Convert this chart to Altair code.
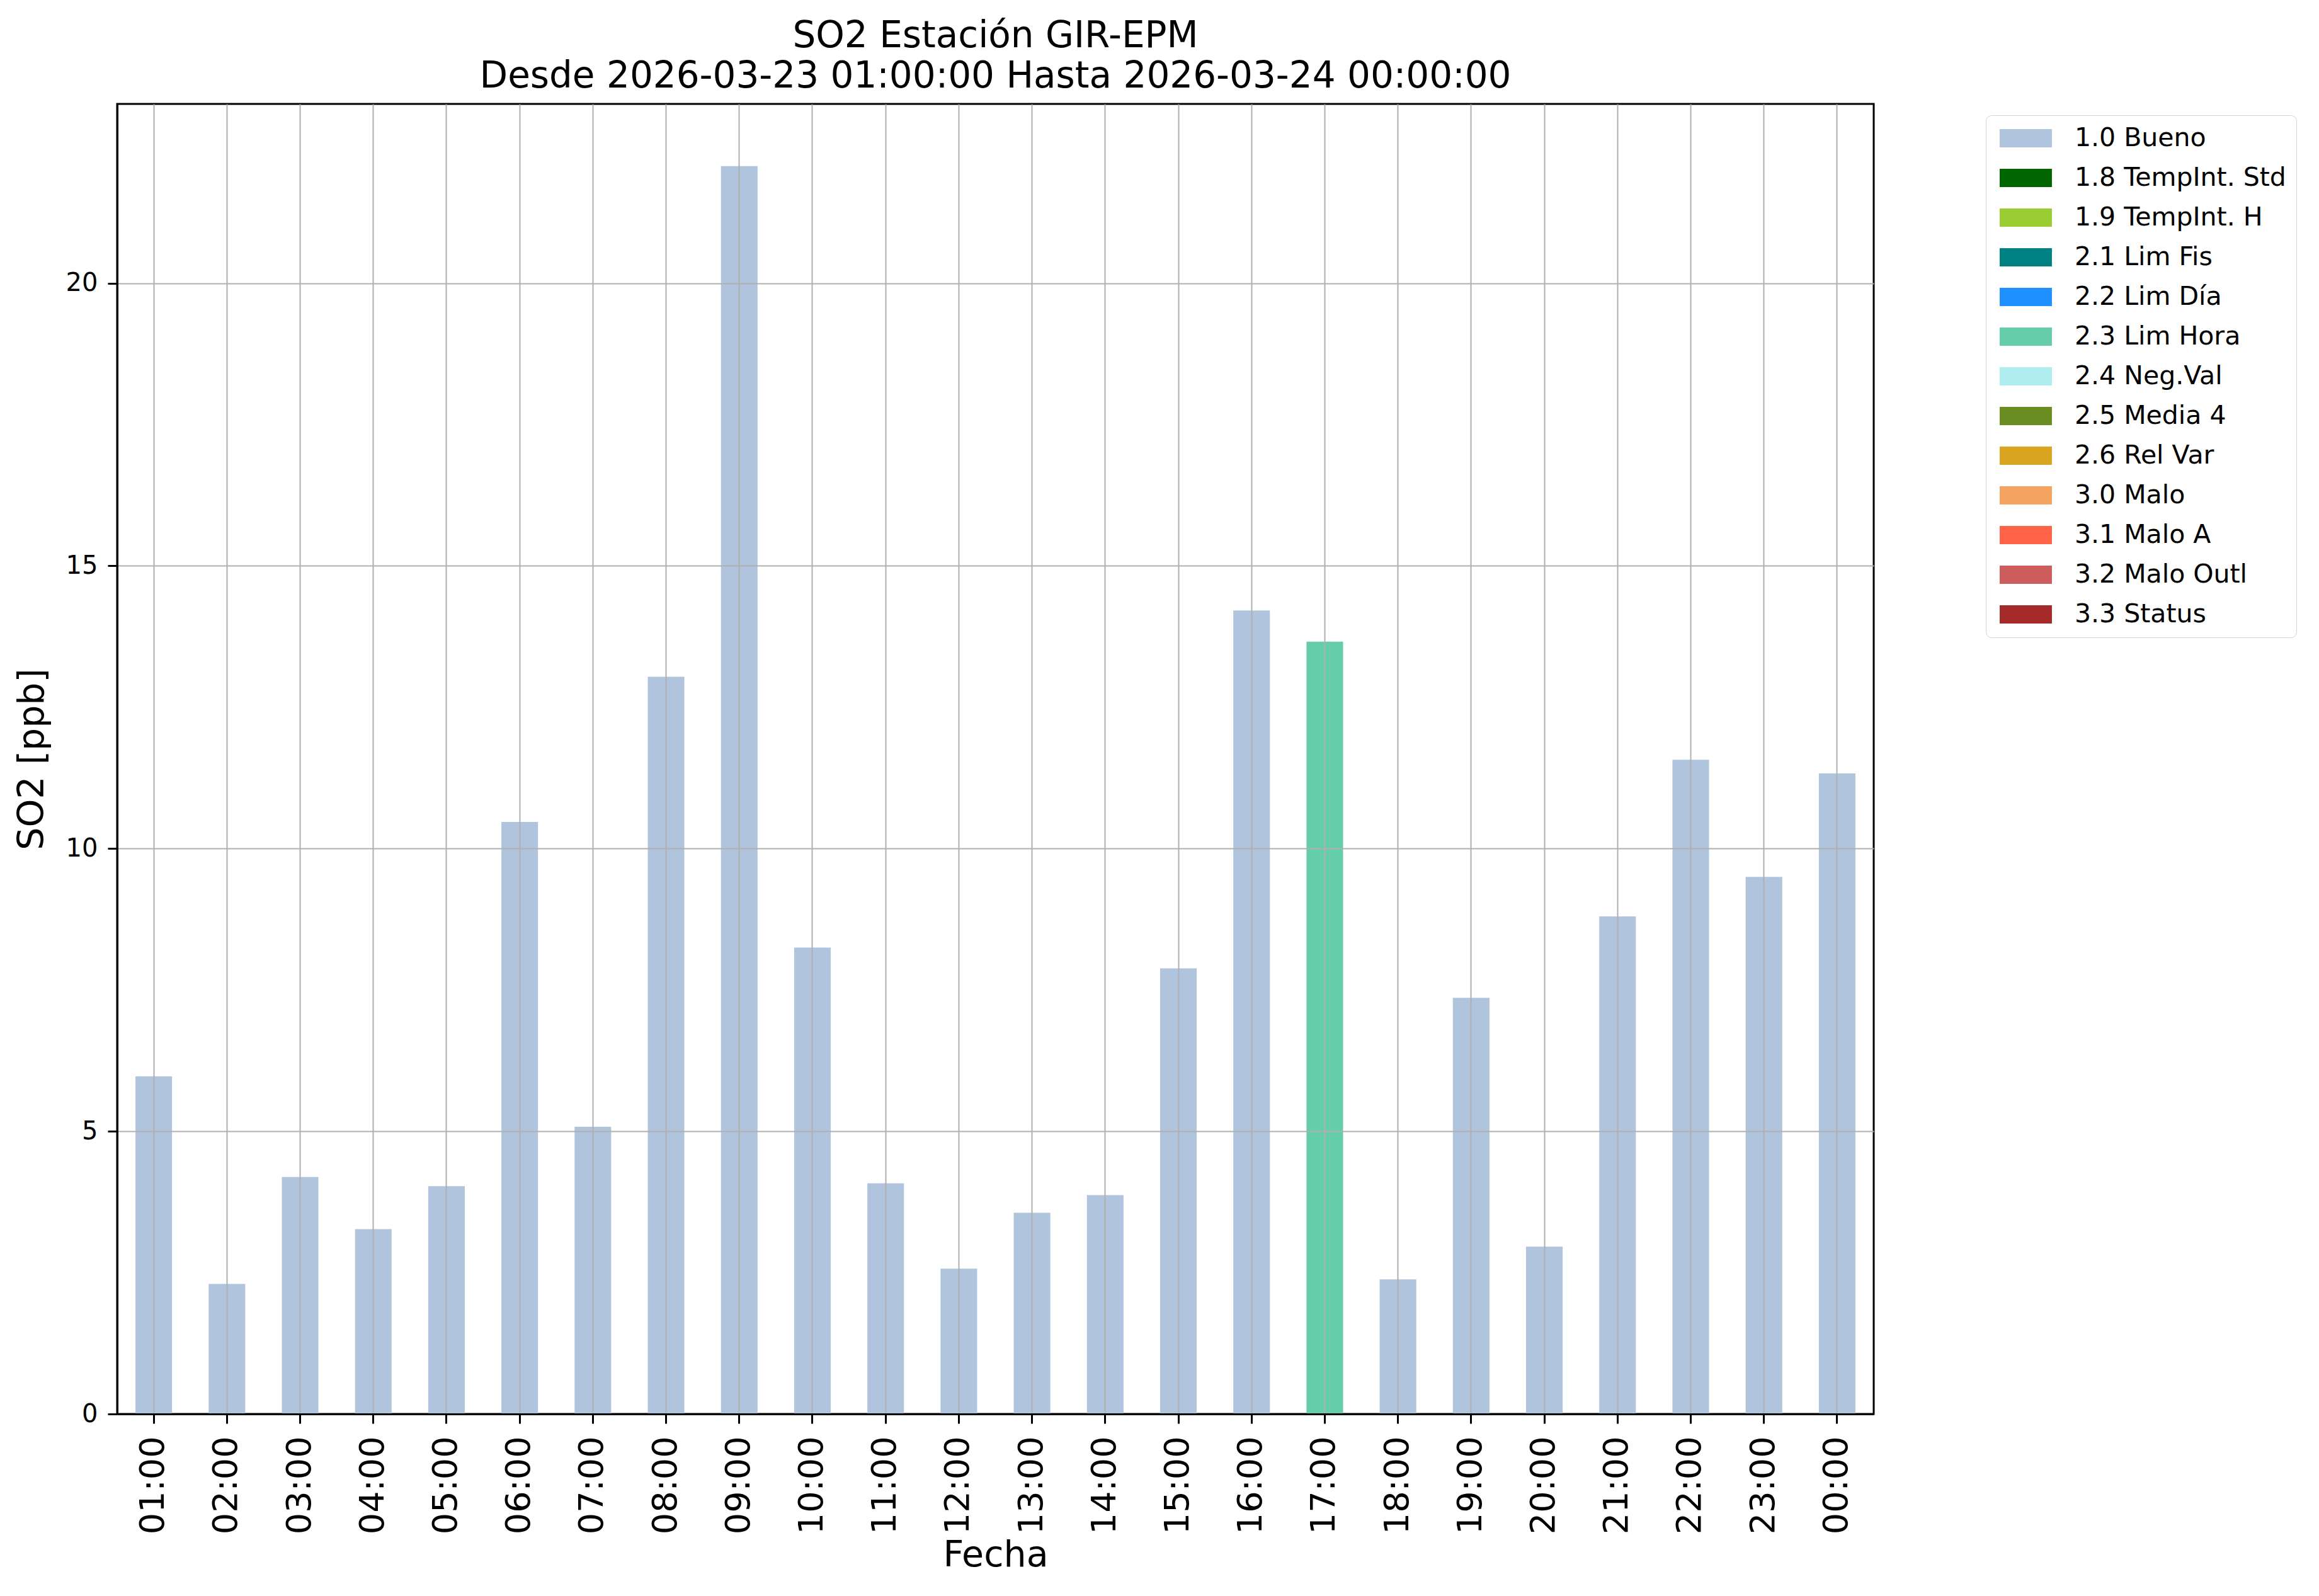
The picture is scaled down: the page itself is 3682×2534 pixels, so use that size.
import altair as alt
import pandas as pd

hours = ["01:00", "02:00", "03:00", "04:00", "05:00", "06:00", "07:00", "08:00",
         "09:00", "10:00", "11:00", "12:00", "13:00", "14:00", "15:00", "16:00",
         "17:00", "18:00", "19:00", "20:00", "21:00", "22:00", "23:00", "00:00"]
values = [5.97, 2.30, 4.19, 3.27, 4.03, 10.47, 5.08, 13.04,
          22.07, 8.25, 4.08, 2.57, 3.56, 3.87, 7.88, 14.21,
          13.66, 2.38, 7.36, 2.96, 8.80, 11.57, 9.50, 11.33]
flags = ["1.0 Bueno"] * 16 + ["2.3 Lim Hora"] + ["1.0 Bueno"] * 7

flag_names = ["1.0 Bueno", "1.8 TempInt. Std", "1.9 TempInt. H", "2.1 Lim Fis",
              "2.2 Lim Día", "2.3 Lim Hora", "2.4 Neg.Val", "2.5 Media 4",
              "2.6 Rel Var", "3.0 Malo", "3.1 Malo A", "3.2 Malo Outl", "3.3 Status"]
flag_colors = ["#B0C4DE", "#006400", "#9ACD32", "#008080", "#1E90FF", "#66CDAA",
               "#AFEEEE", "#6B8E23", "#DAA520", "#F4A460", "#FF6347", "#CD5C5C",
               "#A52A2A"]

df = pd.DataFrame({"Fecha": hours, "SO2": values, "Flag": flags})

FONT = "DejaVu Sans"

chart = alt.Chart(df).mark_bar().encode(
    x=alt.X("Fecha:N", sort=hours,
            scale=alt.Scale(paddingInner=0.5, paddingOuter=0.25),
            axis=alt.Axis(title="Fecha", labelAngle=270, labelFontSize=54,
                          labelFont=FONT, labelColor="black", labelPadding=20,
                          labelAlign="right", labelBaseline="middle",
                          tickSize=15, tickColor="black", tickWidth=3,
                          domainColor="black", domainWidth=3,
                          grid=True, gridColor="#b0b0b0", gridWidth=2,
                          titleFontSize=57, titleFont=FONT, titleFontWeight="normal",
                          titleColor="black", titlePadding=6, zindex=1)),
    y=alt.Y("SO2:Q", scale=alt.Scale(domain=[0, 23.17], nice=False, zero=True),
            axis=alt.Axis(title="SO2 [ppb]", values=[0, 5, 10, 15, 20],
                          labelFontSize=40, labelFont=FONT, labelColor="black",
                          labelPadding=16, tickSize=15, tickColor="black",
                          tickWidth=3, domainColor="black", domainWidth=3,
                          grid=True, gridColor="#b0b0b0", gridWidth=2,
                          titleFontSize=57, titleFont=FONT, titleFontWeight="normal",
                          titleColor="black", titlePadding=24, zindex=1)),
    color=alt.Color("Flag:N",
                    scale=alt.Scale(domain=flag_names, range=flag_colors),
                    legend=alt.Legend(title=None, orient="none",
                                      legendX=2967, legendY=18,
                                      symbolType="M-1,-1L4.72,-1L4.72,1L-1,1Z",
                                      symbolSize=841, symbolStrokeWidth=0,
                                      labelFontSize=41, labelFont=FONT,
                                      labelColor="black", labelOffset=84,
                                      rowPadding=21, padding=16,
                                      strokeColor="#d4d4d4", fillColor="white",
                                      cornerRadius=9, labelLimit=800)),
).properties(
    width=2789,
    height=2080,
    title=alt.TitleParams(
        text=["SO2 Estación GIR-EPM",
              "Desde 2026-03-23 01:00:00 Hasta 2026-03-24 00:00:00"],
        fontSize=58, font=FONT, fontWeight="normal", color="black",
        anchor="middle", offset=14, lineHeight=64),
    autosize=alt.AutoSizeParams(type="none"),
    padding={"left": 178, "top": 157, "right": 699, "bottom": 281},
).configure_view(
    stroke="black", strokeWidth=3
)

chart.save("out.html", embed_options={"renderer": "svg", "actions": False})
